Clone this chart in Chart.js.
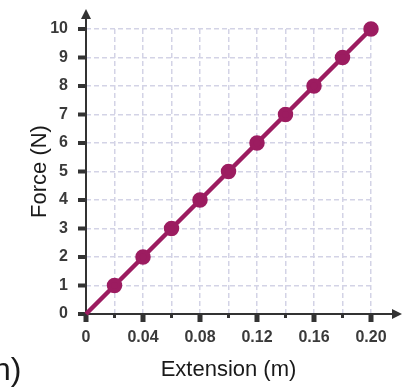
<!DOCTYPE html>
<html>
<head>
<meta charset="utf-8">
<title>Force vs Extension</title>
<script src="https://cdn.jsdelivr.net/npm/chart.js@4/dist/chart.umd.min.js"></script>
<style>
  html, body { margin: 0; padding: 0; background: #fff; overflow: hidden; }
  #wrap { position: relative; width: 411px; height: 389px; }
  #cut { position: absolute; left: -7px; top: 353px; font: 32px "Liberation Sans", Arial, sans-serif; line-height: 1; color: #1a1a1a; white-space: nowrap; }
</style>
</head>
<body>
<div id="wrap">
  <canvas id="chart" width="411" height="389"></canvas>
  <div id="cut">n)</div>
</div>
<script>
// data
var extension = [0, 0.02, 0.04, 0.06, 0.08, 0.10, 0.12, 0.14, 0.16, 0.18, 0.20];
var force = [0, 1, 2, 3, 4, 5, 6, 7, 8, 9, 10];
var xTickLabels = ['0', '0.04', '0.08', '0.12', '0.16', '0.20'];
var yTicks = [0, 1, 2, 3, 4, 5, 6, 7, 8, 9, 10];

var lineColor = '#9c1c60';
var axisColor = '#333333';
var gridColor = '#d3d3e6';

// axes with arrows + tick marks, drawn on top of the grid
var axesPlugin = {
    id: 'arrowAxes',
    beforeDatasetsDraw: function(chart) {
        var ctx = chart.ctx;
        var xs = chart.scales.x, ys = chart.scales.y;
        var x0 = xs.getPixelForValue(0), y0 = ys.getPixelForValue(0);
        var yTop = ys.getPixelForValue(10) - 20;
        var xEnd = xs.getPixelForValue(0.2) + 31;
        ctx.save();
        ctx.strokeStyle = axisColor;
        ctx.fillStyle = axisColor;
        ctx.lineWidth = 2;
        ctx.beginPath();
        ctx.moveTo(x0, y0 + 1);
        ctx.lineTo(x0, yTop + 6);
        ctx.moveTo(x0 - 1, y0);
        ctx.lineTo(xEnd - 6, y0);
        ctx.stroke();
        // arrowheads
        ctx.beginPath();
        ctx.moveTo(x0, yTop);
        ctx.lineTo(x0 - 5, yTop + 10);
        ctx.lineTo(x0 + 5, yTop + 10);
        ctx.closePath();
        ctx.fill();
        ctx.beginPath();
        ctx.moveTo(xEnd, y0);
        ctx.lineTo(xEnd - 10, y0 - 5);
        ctx.lineTo(xEnd - 10, y0 + 5);
        ctx.closePath();
        ctx.fill();
        // y tick marks
        yTicks.forEach(function(v) {
            var py = ys.getPixelForValue(v);
            ctx.fillRect(x0 - 8, py - 2, 8, 4);
        });
        // x tick marks, longer where labelled
        extension.forEach(function(v, i) {
            var px = xs.getPixelForValue(v);
            if (i % 2 === 0) {
                ctx.fillRect(px - 2.5, y0, 5, 8);
            } else {
                ctx.fillRect(px - 1.5, y0, 3, 4);
            }
        });
        ctx.restore();
    }
};

var tickFont = { family: '"Liberation Sans", Arial, sans-serif', size: 16, weight: 'bold' };
var titleFont = { family: '"Liberation Sans", Arial, sans-serif', size: 22 };

new Chart(document.getElementById('chart'), {
    type: 'scatter',
    data: {
        datasets: [{
            data: extension.map(function(x, i) { return { x: x, y: force[i] }; }),
            showLine: true,
            borderColor: lineColor,
            backgroundColor: lineColor,
            borderWidth: 4.5,
            pointRadius: function(c) { return c.dataIndex === 0 ? 0 : 5.5; },
            pointHoverRadius: 5.5,
            clip: false
        }]
    },
    options: {
        responsive: false,
        animation: false,
        events: [],
        layout: { padding: { left: 0, right: 40, top: 29, bottom: 0 } },
        plugins: { legend: { display: false }, tooltip: { enabled: false } },
        scales: {
            x: {
                type: 'linear',
                min: 0,
                max: 0.2,
                afterBuildTicks: function(s) { s.ticks = extension.map(function(v) { return { value: v }; }); },
                afterFit: function(s) { s.height = 75; },
                grid: { color: gridColor, lineWidth: 1.5, drawTicks: false },
                border: { display: false, dash: [5, 3] },
                ticks: {
                    autoSkip: false,
                    maxRotation: 0,
                    padding: 14,
                    color: '#3a3a3a',
                    font: tickFont,
                    callback: function(v, i) { return i % 2 === 0 ? xTickLabels[i / 2] : ''; }
                },
                title: {
                    display: true,
                    text: 'Extension (m)',
                    color: '#1a1a1a',
                    font: titleFont,
                    padding: { top: 0, bottom: 6 }
                }
            },
            y: {
                type: 'linear',
                min: 0,
                max: 10,
                afterBuildTicks: function(s) { s.ticks = yTicks.map(function(v) { return { value: v }; }); },
                afterFit: function(s) { s.width = 86; },
                grid: { color: gridColor, lineWidth: 1.5, drawTicks: false },
                border: { display: false, dash: [5, 3] },
                ticks: {
                    autoSkip: false,
                    padding: 18,
                    color: '#3a3a3a',
                    font: tickFont
                },
                title: {
                    display: true,
                    text: 'Force (N)',
                    color: '#1a1a1a',
                    font: titleFont,
                    padding: { top: 27, bottom: 0 }
                }
            }
        }
    },
    plugins: [axesPlugin]
});
</script>
</body>
</html>
